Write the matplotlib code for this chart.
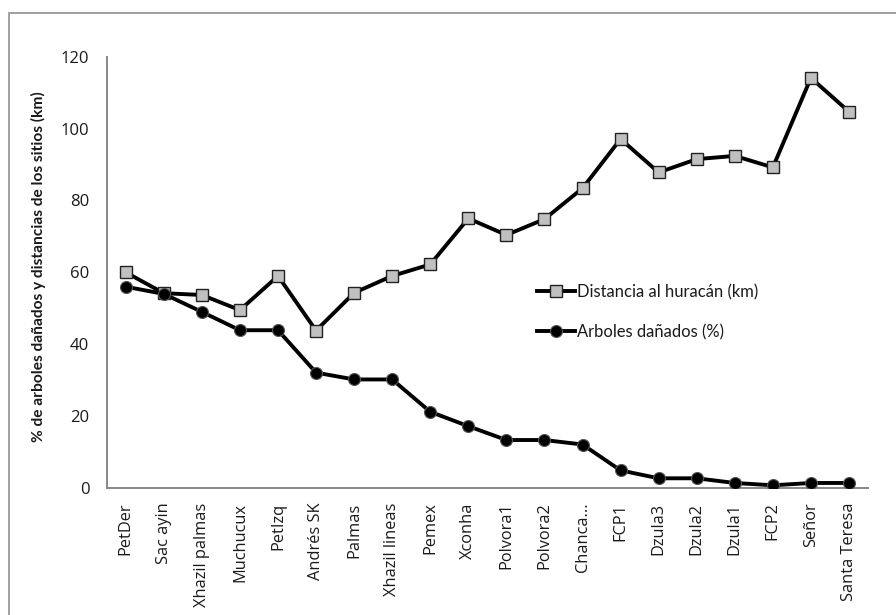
import numpy as np
import matplotlib
matplotlib.use("Agg")
import matplotlib.pyplot as plt
from matplotlib.patches import Rectangle

sites = ["PetDer", "Sac ayin", "Xhazil palmas", "Muchucux", "PetIzq", "Andrés SK",
         "Palmas", "Xhazil lineas", "Pemex", "Xconha", "Polvora1", "Polvora2",
         "Chanca...", "FCP1", "Dzula3", "Dzula2", "Dzula1", "FCP2", "Señor",
         "Santa Teresa"]

# distance of each site to the hurricane track (km)
distancia_km = [60.0, 54.2, 53.7, 49.5, 59.0, 43.8, 54.3, 59.0, 62.2, 75.0,
                70.4, 74.8, 83.4, 97.1, 87.8, 91.5, 92.4, 89.2, 114.1, 104.7]

# share of damaged trees per site (%)
arboles_pct = [56.0, 54.0, 49.0, 43.9, 43.9, 32.1, 30.2, 30.2, 21.2, 17.2,
               13.35, 13.35, 12.1, 4.9, 2.7, 2.7, 1.4, 0.75, 1.4, 1.4]

yticks = [0, 20, 40, 60, 80, 100, 120]

W, H = 896, 615
fig = plt.figure(figsize=(W / 100, H / 100), dpi=100)
ax = fig.add_axes([106.7 / W, 1 - 488 / H, (868 - 106.7) / W, (488 - 56.7) / H])

x = np.arange(len(sites))
l_dist, = ax.plot(x, distancia_km, color="black", lw=2.8, marker="s", ms=9,
                  mfc="#c0c0c0", mec="#222222", mew=1.0,
                  label="Distancia al huracán (km)", zorder=3)
l_arb, = ax.plot(x, arboles_pct, color="black", lw=2.8, marker="o", ms=8.6,
                 mfc="black", mec="#555555", mew=0.8,
                 label="Arboles dañados (%)", zorder=4)

ax.set_xlim(-0.5, len(sites) - 0.5)
ax.set_ylim(0, 120)
ax.set_yticks(yticks)
ax.set_xticks(x)
ax.set_xticklabels(sites, rotation=90, fontfamily="Open Sans", fontsize=11.8,
                   color="#1a1a1a")
ax.set_yticklabels([str(v) for v in yticks], fontfamily="Open Sans",
                   fontsize=12, color="#1a1a1a")
ax.tick_params(axis="y", length=0, pad=12.5)
ax.tick_params(axis="x", length=0, pad=10.5)

for side in ("top", "right"):
    ax.spines[side].set_visible(False)
for side in ("left", "bottom"):
    ax.spines[side].set_color("#888888")
    ax.spines[side].set_linewidth(1.4)

fig.text(38 / W, 1 - 267 / H, "% de arboles dañados y distancias de los sitios (km)",
         rotation=90, ha="center", va="center", fontfamily="Lato",
         fontweight="bold", fontsize=11.2, color="#1a1a1a")

leg = ax.legend(handles=[l_dist, l_arb], loc="center left",
                bbox_to_anchor=(537 / W, 1 - 312 / H),
                bbox_transform=fig.transFigure, frameon=False,
                prop={"family": "Lato", "size": 11.9}, handlelength=2.3,
                handletextpad=0.1, labelspacing=1.45, borderpad=0,
                borderaxespad=0)
for t in leg.get_texts():
    t.set_color("#1a1a1a")

# outer chart border
fig.add_artist(Rectangle((8.5 / W, -0.1), 1.2, 1.1 - 13 / H,
                         transform=fig.transFigure, fill=False,
                         edgecolor="#a0a0a0", lw=1.4))

fig.savefig("out.png", dpi=100)
